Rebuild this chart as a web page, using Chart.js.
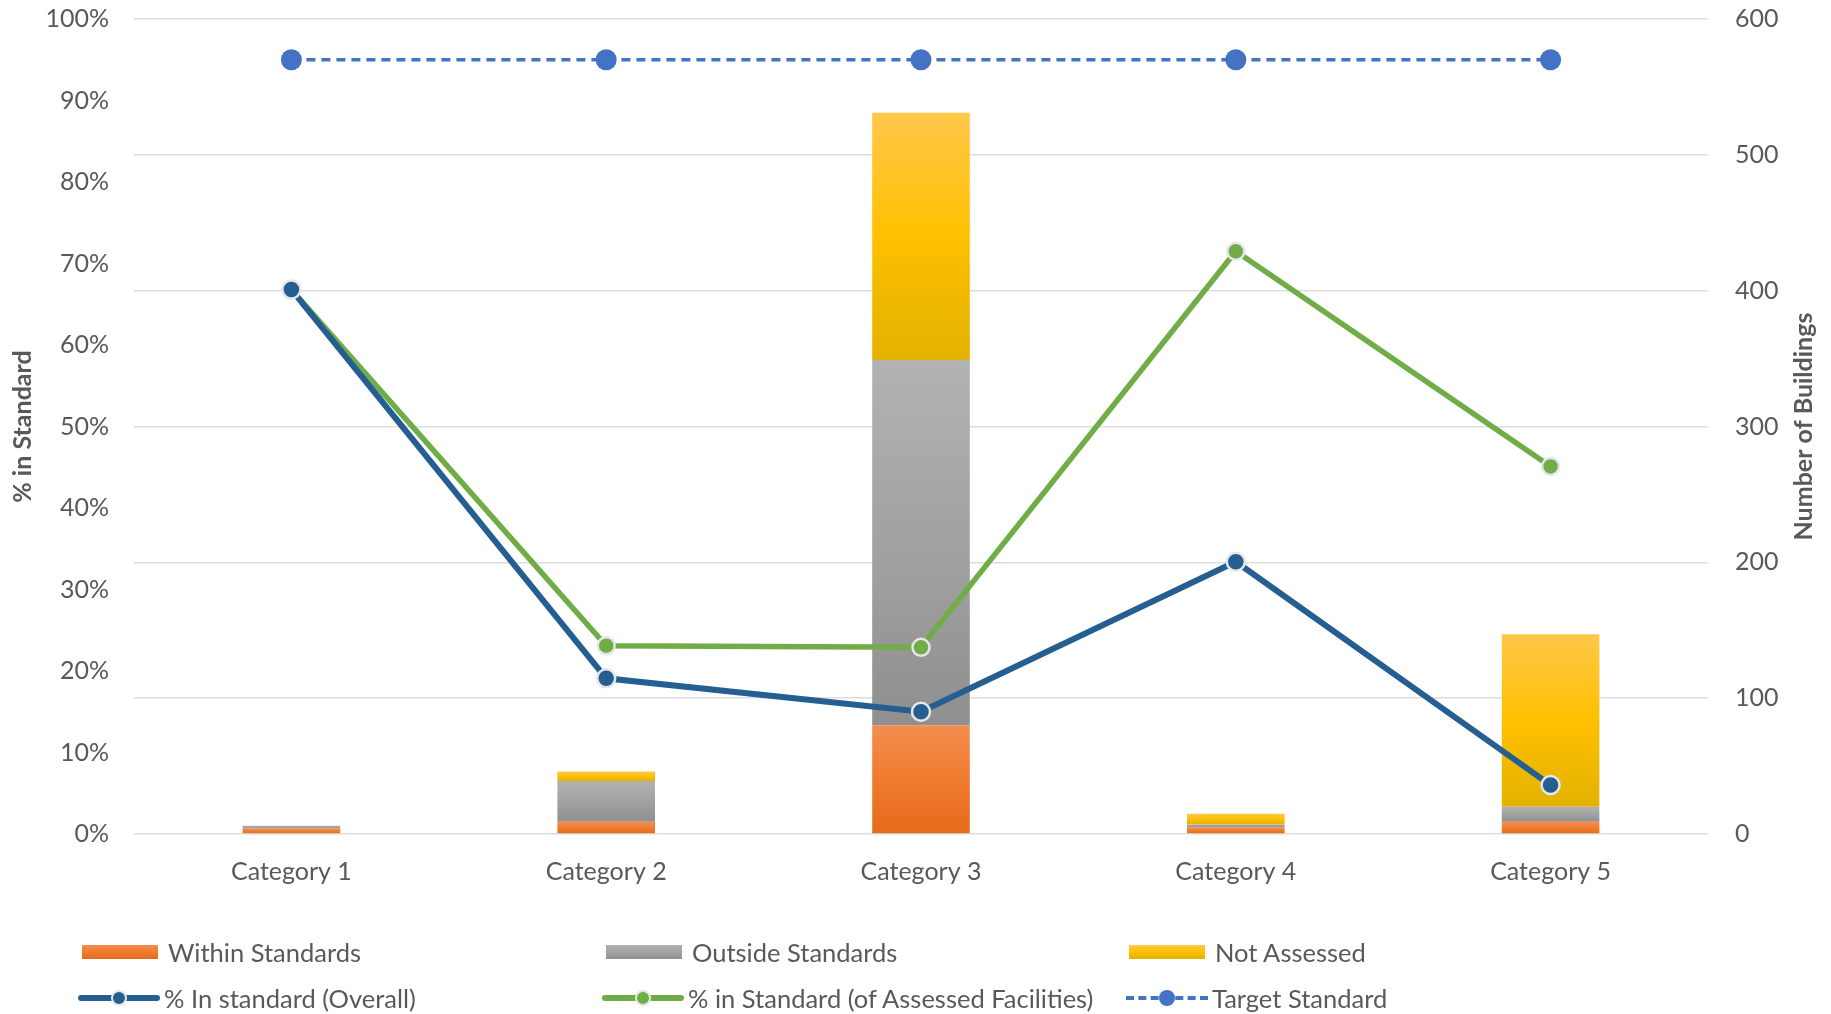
<!DOCTYPE html>
<html>
<head>
<meta charset="utf-8">
<script src="https://cdn.jsdelivr.net/npm/chart.js@4.4.1/dist/chart.umd.min.js"></script>
<style>
  html, body { margin: 0; padding: 0; background: #fff; }
  #wrap { position: relative; width: 1831px; height: 1014px; }
  #legend { position: absolute; left: 0; top: 0; width: 1831px; height: 1014px; pointer-events: none;
            font-family: Lato, "Open Sans", sans-serif; font-size: 25.5px; color: #595959; }
  .item { position: absolute; display: flex; align-items: center; height: 30px; white-space: nowrap; }
  .box { width: 76px; height: 14px; margin-right: 10px; }
  .ln { position: relative; width: 82px; height: 18px; margin-right: 4px; }
  .ln .bar { position: absolute; left: 0; right: 0; top: 6px; height: 6px; }
  .ln .dot { position: absolute; left: 33px; top: 1px; width: 12px; height: 12px; border-radius: 50%; border: 2px solid #e6e6e6; }
</style>
</head>
<body>
<div id="wrap">
  <canvas id="chart" width="1831" height="1014"></canvas>
  <div id="legend"></div>
</div>
<script>
const categories = ['Category 1', 'Category 2', 'Category 3', 'Category 4', 'Category 5'];
const withinStandards = [4, 9, 80, 5, 9];
const outsideStandards = [2, 30, 269, 2, 11];
const notAssessed = [0, 7, 182, 8, 127];
const pctOverall = [66.8, 19.1, 15.0, 33.4, 6.0];
const pctAssessed = [66.8, 23.1, 22.9, 71.5, 45.1];
const targetStandard = [95, 95, 95, 95, 95];

const stacks = [withinStandards, outsideStandards, notAssessed];
const orangeStops = ['#f38d50', '#f07b2e', '#e56a1a'];
const greyStops = ['#b2b2b2', '#a2a2a2', '#8f8f8f'];
const yellowStops = ['#ffc84a', '#ffc000', '#e2b200'];

function segmentFill(level, stops) {
  return function (ctx) {
    const chart = ctx.chart;
    const y1 = chart.scales.y1;
    if (ctx.type !== 'data' || !y1) return stops[1];
    const i = ctx.dataIndex;
    let base = 0;
    for (let k = 0; k < level; k++) base += stacks[k][i];
    const top = base + stacks[level][i];
    const yTop = y1.getPixelForValue(top);
    const yBase = y1.getPixelForValue(base);
    if (!isFinite(yTop) || !isFinite(yBase) || Math.abs(yBase - yTop) < 1) return stops[1];
    const g = chart.ctx.createLinearGradient(0, yTop, 0, yBase);
    g.addColorStop(0, stops[0]);
    g.addColorStop(0.5, stops[1]);
    g.addColorStop(1, stops[2]);
    return g;
  };
}

const fontFamily = 'Lato, "Open Sans", sans-serif';
const font = { family: fontFamily, size: 25 };
const textColor = '#595959';

// right-hand title reads bottom-to-top, as in the original
const rightTitle = {
  id: 'rightTitle',
  afterDraw(chart) {
    const c = chart.ctx;
    const area = chart.chartArea;
    c.save();
    c.translate(1804, (area.top + area.bottom) / 2);
    c.rotate(-Math.PI / 2);
    c.fillStyle = textColor;
    c.font = 'bold 25px ' + fontFamily;
    c.textAlign = 'center';
    c.textBaseline = 'middle';
    c.fillText('Number of Buildings', 0, 0);
    c.restore();
  }
};

function fixY(width) {
  return s => { s.width = width; s.paddingTop = 19; s.paddingBottom = 0; };
}

const chart = new Chart(document.getElementById('chart').getContext('2d'), {
  data: {
    labels: categories,
    datasets: [
      {
        type: 'line', label: '% In standard (Overall)', data: pctOverall, yAxisID: 'y', order: 0,
        borderColor: '#255e91', borderWidth: 6, tension: 0,
        pointRadius: 9, pointBackgroundColor: '#255e91', pointBorderColor: '#e6e6e6', pointBorderWidth: 2.5
      },
      {
        type: 'line', label: '% in Standard (of Assessed Facilities)', data: pctAssessed, yAxisID: 'y', order: 0,
        borderColor: '#70ad47', borderWidth: 5.5, tension: 0,
        pointRadius: 8.5, pointBackgroundColor: '#70ad47', pointBorderColor: '#e6e6e6', pointBorderWidth: 2.5
      },
      {
        type: 'line', label: 'Target Standard', data: targetStandard, yAxisID: 'y', order: 0,
        borderColor: '#4472c4', borderWidth: 3.5, borderDash: [9, 6], tension: 0,
        pointRadius: 10.5, pointBackgroundColor: '#4472c4', pointBorderWidth: 0
      },
      {
        type: 'bar', label: 'Within Standards', data: withinStandards, yAxisID: 'y1', order: 1,
        backgroundColor: segmentFill(0, orangeStops), borderWidth: 0
      },
      {
        type: 'bar', label: 'Outside Standards', data: outsideStandards, yAxisID: 'y1', order: 1,
        backgroundColor: segmentFill(1, greyStops), borderWidth: 0
      },
      {
        type: 'bar', label: 'Not Assessed', data: notAssessed, yAxisID: 'y1', order: 1,
        backgroundColor: segmentFill(2, yellowStops), borderWidth: 0
      }
    ]
  },
  options: {
    responsive: false,
    animation: false,
    layout: { padding: { top: 0, bottom: 100, left: 0, right: 0 } },
    datasets: { bar: { barPercentage: 0.31, categoryPercentage: 1 } },
    plugins: { legend: { display: false }, tooltip: { enabled: false } },
    scales: {
      x: {
        stacked: true,
        grid: { display: false },
        border: { display: false },
        ticks: { color: textColor, font: font, padding: 15 },
        afterFit: s => { s.height = 80; }
      },
      y: {
        position: 'left', min: 0, max: 100,
        grid: { display: false },
        border: { display: false },
        ticks: { stepSize: 10, color: textColor, font: font, padding: 17, callback: v => v + '%' },
        title: { display: true, text: '% in Standard', color: textColor, font: { family: fontFamily, size: 25, weight: 'bold' }, padding: { top: 8, bottom: 0 } },
        afterFit: fixY(134)
      },
      y1: {
        position: 'right', stacked: true, min: 0, max: 600,
        grid: { color: '#dedede', lineWidth: 1.5, drawTicks: false },
        border: { display: false },
        ticks: { stepSize: 100, color: textColor, font: font, padding: 27 },
        afterFit: fixY(123)
      }
    }
  },
  plugins: [rightTitle]
});

// legend laid out in three columns, like the original
const legendItems = [
  { kind: 'box', stops: orangeStops, text: 'Within Standards', x: 82, y: 952 },
  { kind: 'box', stops: greyStops, text: 'Outside Standards', x: 606, y: 952 },
  { kind: 'box', stops: yellowStops, text: 'Not Assessed', x: 1129, y: 952 },
  { kind: 'line', color: '#255e91', text: '% In standard (Overall)', x: 78, y: 998 },
  { kind: 'line', color: '#70ad47', text: '% in Standard (of Assessed Facilities)', x: 602, y: 998 },
  { kind: 'dash', color: '#4472c4', text: 'Target Standard', x: 1126, y: 998 }
];
const legendEl = document.getElementById('legend');
legendItems.forEach(it => {
  const d = document.createElement('div');
  d.className = 'item';
  d.style.left = it.x + 'px';
  d.style.top = (it.y - 15) + 'px';
  let sw;
  if (it.kind === 'box') {
    sw = '<div class="box" style="background:linear-gradient(' + it.stops.join(',') + ')"></div>';
  } else if (it.kind === 'line') {
    sw = '<div class="ln"><div class="bar" style="background:' + it.color + ';border-radius:3px"></div>' +
         '<div class="dot" style="background:' + it.color + '"></div></div>';
  } else {
    sw = '<div class="ln"><div class="bar" style="height:0;top:7px;border-top:4px dashed ' + it.color + '"></div>' +
         '<div class="dot" style="background:' + it.color + ';border:none;width:16px;height:16px;left:33px;top:1px"></div></div>';
  }
  d.innerHTML = sw + '<span>' + it.text + '</span>';
  legendEl.appendChild(d);
});
</script>
</body>
</html>
